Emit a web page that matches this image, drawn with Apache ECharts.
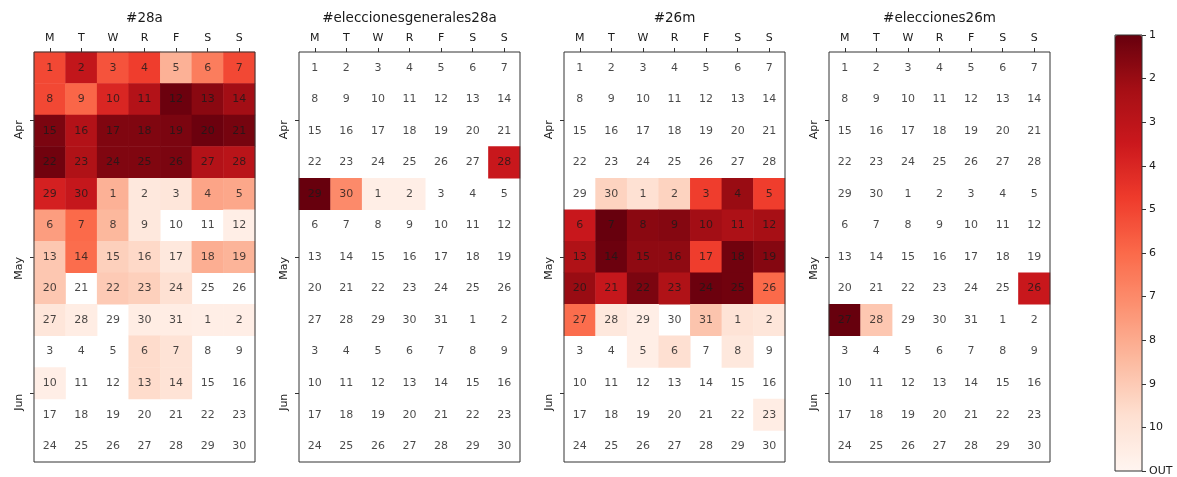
<!DOCTYPE html>
<html><head><meta charset="utf-8">
<script src="https://cdn.jsdelivr.net/npm/echarts@6/dist/echarts.min.js"></script>
<style>html,body{margin:0;padding:0;background:#fff}#c{width:1177px;height:477px}</style>
</head><body><div id="c"></div>
<script>
// ---------- data ----------
const panelTitles = ['#28a', '#eleccionesgenerales28a', '#26m', '#elecciones26m'];
const weekdayLabels = ['M', 'T', 'W', 'R', 'F', 'S', 'S'];
const monthLabels = ['Apr', 'May', 'Jun'];
const monthTickRows = [1.667, 6.0, 10.333];   // mean week-row of each month
const colorbarLabels = ['1', '2', '3', '4', '5', '6', '7', '8', '9', '10', 'OUT'];
const startYear = 2019, startMonth = 3, startDay = 1;   // Mon 1 Apr 2019
const weekCount = 13;
const _ = null;   // OUT (not in top 10)

// daily ranks, one row per week (Mon..Sun)
const rank28a = [
  5.1, 3.2, 5.4, 4.8, 8.2, 6.6, 5.1,
  5.1, 5.9, 4.0, 2.7, 1.1, 1.7, 2.2,
  1.4, 2.7, 1.5, 1.5, 1.4, 1.1, 1.3,
  1.2, 2.6, 1.5, 1.5, 1.4, 2.7, 2.9,
  3.8, 3.3, 8.2, 10.2, 10.1, 7.8, 7.9,
  7.6, 6.0, 8.4, 10.2, _, _, 10.6,
  8.9, 6.1, 9.2, 9.5, 10.2, 8.1, 8.3,
  8.9, _, 9.0, 9.2, 9.8, _, _,
  10.1, 10.5, _, 10.5, 10.5, 10.6, 10.6,
  _, _, _, 9.6, 9.9, _, _,
  10.6, _, _, 9.6, 9.9, _, _,
  _, _, _, _, _, _, _,
  _, _, _, _, _, _, _
];
const rankEleccionesGenerales28a = [
  _, _, _, _, _, _, _,
  _, _, _, _, _, _, _,
  _, _, _, _, _, _, _,
  _, _, _, _, _, _, 3.4,
  1.0, 7.0, 10.6, 10.6, _, _, _,
  _, _, _, _, _, _, _,
  _, _, _, _, _, _, _,
  _, _, _, _, _, _, _,
  _, _, _, _, _, _, _,
  _, _, _, _, _, _, _,
  _, _, _, _, _, _, _,
  _, _, _, _, _, _, _,
  _, _, _, _, _, _, _
];
const rank26m = [
  _, _, _, _, _, _, _,
  _, _, _, _, _, _, _,
  _, _, _, _, _, _, _,
  _, _, _, _, _, _, _,
  _, 9.3, 9.8, 9.3, 4.8, 2.0, 4.8,
  3.4, 1.0, 1.7, 1.6, 2.2, 2.5, 2.3,
  2.6, 1.1, 1.8, 1.8, 4.8, 1.2, 1.6,
  2.0, 3.3, 1.4, 2.6, 1.1, 1.2, 6.0,
  6.1, 10.2, 10.6, _, 8.8, 9.9, 10.1,
  _, _, 10.6, 9.75, _, 10.2, _,
  _, _, _, _, _, _, _,
  _, _, _, _, _, _, 10.5,
  _, _, _, _, _, _, _
];
const rankElecciones26m = [
  _, _, _, _, _, _, _,
  _, _, _, _, _, _, _,
  _, _, _, _, _, _, _,
  _, _, _, _, _, _, _,
  _, _, _, _, _, _, _,
  _, _, _, _, _, _, _,
  _, _, _, _, _, _, _,
  _, _, _, _, _, _, 3.4,
  1.0, 8.9, _, _, _, _, _,
  _, _, _, _, _, _, _,
  _, _, _, _, _, _, _,
  _, _, _, _, _, _, _,
  _, _, _, _, _, _, _
];
const panelValues = [rank28a, rankEleccionesGenerales28a, rank26m, rankElecciones26m];
const redsReversed = ['#67000d', '#a50f15', '#cb181d', '#ef3b2c', '#fb6a4a', '#fc9272', '#fcbba1', '#fee0d2', '#fff5f0'];

// ---------- chart ----------
const weekRows = Array.from({length: weekCount}, (_, i) => String(i));
const dayNumbers = Array.from({length: weekCount * 7}, (_, i) => new Date(startYear, startMonth, startDay + i).getDate());

const panelLeft = [34, 299, 564, 829];
const panelWidth = 221, panelTop = 52, panelHeight = 410;
const txt = '#1a1a1a';
const font = 'DejaVu Sans';

const grid = [], xAxis = [], yAxis = [], series = [], title = [];
panelValues.forEach((vals, p) => {
  grid.push({left: panelLeft[p], top: panelTop, width: panelWidth, height: panelHeight,
    show: true, borderColor: '#333', borderWidth: 1, backgroundColor: 'transparent', z: 10});
  title.push({text: panelTitles[p], left: panelLeft[p] + panelWidth / 2, top: 11, textAlign: 'center', padding: 0,
    textStyle: {fontFamily: font, fontSize: 13.5, fontWeight: 'normal', color: txt}});
  xAxis.push({type: 'category', gridIndex: p, data: weekdayLabels, position: 'top',
    axisLine: {show: false, onZero: false}, splitLine: {show: false},
    axisTick: {show: true, alignWithLabel: true, length: 4, lineStyle: {color: '#333'}},
    axisLabel: {margin: 8, fontSize: 11, fontFamily: font, color: txt, interval: 0}});
  yAxis.push({type: 'category', gridIndex: p, data: weekRows, inverse: true, show: false});
  yAxis.push({type: 'value', gridIndex: p, min: -0.5, max: 12.5, inverse: true, position: 'left',
    axisLine: {show: false, onZero: false}, splitLine: {show: false},
    axisTick: {show: true, length: 4, customValues: monthTickRows, lineStyle: {color: '#333'}},
    axisLabel: {customValues: monthTickRows, rotate: 90, margin: 9, align: 'right', verticalAlign: 'bottom',
      fontSize: 11, fontFamily: font, color: txt,
      formatter: v => { const k = monthTickRows.findIndex(m => Math.abs(m - v) < 1e-6); return k >= 0 ? monthLabels[k] : ''; }}});
  const heat = [];
  vals.forEach((v, i) => {
    if (v !== null) heat.push([i % 7, Math.floor(i / 7), v]);
  });
  series.push({type: 'heatmap', xAxisIndex: p, yAxisIndex: 2 * p, data: heat, z: 2,
    itemStyle: {borderWidth: 0}, emphasis: {disabled: true}, silent: true});
});
panelValues.forEach((vals, p) => {
  const labels = vals.map((v, i) => [i % 7, Math.floor(i / 7), dayNumbers[i]]);
  series.push({type: 'scatter', xAxisIndex: p, yAxisIndex: 2 * p, data: labels, z: 3, silent: true,
    symbolSize: 1, itemStyle: {color: 'rgba(0,0,0,0)'},
    label: {show: true, position: 'inside', formatter: q => String(q.data[2]), fontSize: 11, fontFamily: font, color: txt}});
});

// colorbar frame + axis
grid.push({left: 1115, top: 35, width: 27, height: 436, show: true, borderColor: '#333', borderWidth: 1,
  backgroundColor: 'transparent', z: 10});
xAxis.push({type: 'value', gridIndex: 4, show: false, min: 0, max: 1, axisLine: {onZero: false}});
yAxis.push({type: 'value', gridIndex: 4, min: 1, max: 11, interval: 1, inverse: true, position: 'right',
  axisLine: {show: false, onZero: false}, splitLine: {show: false},
  axisTick: {show: true, length: 4, lineStyle: {color: '#333'}},
  axisLabel: {margin: 7, fontSize: 11, fontFamily: font, color: txt, showMinLabel: true, showMaxLabel: true,
    formatter: v => colorbarLabels[Math.round(v) - 1]}});

const chart = echarts.init(document.getElementById('c'), null, {renderer: 'canvas'});
chart.setOption({
  backgroundColor: '#fff',
  animation: false,
  textStyle: {fontFamily: font},
  title, grid, xAxis, yAxis, series,
  visualMap: {type: 'continuous', min: 1, max: 11, seriesIndex: [0, 1, 2, 3], inverse: true,
    orient: 'vertical', left: 1115, top: 35, itemWidth: 27, itemHeight: 436, padding: 0,
    calculable: false, hoverLink: false, text: null, showLabel: false,
    inRange: {color: redsReversed}}
});
</script></body></html>
